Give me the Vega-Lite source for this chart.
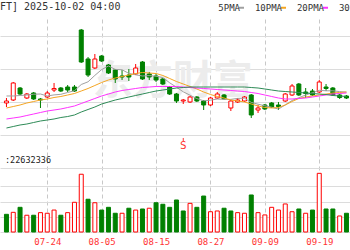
{
 "$schema": "https://vega.github.io/schema/vega-lite/v6.json",
 "width": 350,
 "height": 213,
 "autosize": {"type": "none"},
 "padding": {"left": 0, "top": 19, "right": 0, "bottom": 18},
 "background": "white",
 "title": {"text": "FT] 2025-10-02 04:00", "anchor": "start", "frame": "group", "font": "DejaVu Sans Mono", "fontSize": 10, "fontWeight": "normal", "color": "#333333", "baseline": "alphabetic", "offset": 0, "dy": 17},
 "config": {"view": {"stroke": null}},
 "datasets": {
  "k": [
   {"i":0,"d":"07-16","o":1.0955,"c":1.1015,"h":1.1106,"l":1.0833,"dir":"up","vol":11.6,"vdir":"down","5PMA":1.1167,"10PMA":1.0803,"20PMA":1.0470,"30PMA":1.0197},
   {"i":1,"d":"07-17","o":1.1045,"c":1.1561,"h":1.1591,"l":1.1015,"dir":"up","vol":12.9,"vdir":"up","5PMA":1.1167,"10PMA":1.0848,"20PMA":1.0500,"30PMA":1.0242},
   {"i":2,"d":"07-18","o":1.1409,"c":1.1227,"h":1.1439,"l":1.1197,"dir":"down","vol":16.2,"vdir":"down","5PMA":1.1182,"10PMA":1.0894,"20PMA":1.0530,"30PMA":1.0288},
   {"i":3,"d":"07-21","o":1.1106,"c":1.1227,"h":1.1258,"l":1.1076,"dir":"up","vol":11.0,"vdir":"up","5PMA":1.1197,"10PMA":1.0955,"20PMA":1.0576,"30PMA":1.0318},
   {"i":4,"d":"07-22","o":1.1258,"c":1.1076,"h":1.1288,"l":1.1045,"dir":"down","vol":11.0,"vdir":"down","5PMA":1.1221,"10PMA":1.1000,"20PMA":1.0621,"30PMA":1.0364},
   {"i":5,"d":"07-23","o":1.1076,"c":1.1045,"h":1.1106,"l":1.0803,"dir":"down","vol":12.7,"vdir":"up","5PMA":1.1227,"10PMA":1.1045,"20PMA":1.0667,"30PMA":1.0409},
   {"i":6,"d":"07-24","o":1.1136,"c":1.1258,"h":1.1318,"l":1.1106,"dir":"up","vol":12.3,"vdir":"up","5PMA":1.1167,"10PMA":1.1076,"20PMA":1.0712,"30PMA":1.0439},
   {"i":7,"d":"07-25","o":1.1348,"c":1.1394,"h":1.1561,"l":1.1288,"dir":"up","vol":14.4,"vdir":"up","5PMA":1.1200,"10PMA":1.1121,"20PMA":1.0742,"30PMA":1.0470},
   {"i":8,"d":"07-28","o":1.1409,"c":1.1318,"h":1.1439,"l":1.1288,"dir":"down","vol":11.0,"vdir":"down","5PMA":1.1218,"10PMA":1.1152,"20PMA":1.0773,"30PMA":1.0515},
   {"i":9,"d":"07-29","o":1.1439,"c":1.1348,"h":1.1500,"l":1.1288,"dir":"down","vol":12.7,"vdir":"up","5PMA":1.1273,"10PMA":1.1197,"20PMA":1.0818,"30PMA":1.0545},
   {"i":10,"d":"07-30","o":1.1439,"c":1.1318,"h":1.1500,"l":1.1288,"dir":"down","vol":19.5,"vdir":"up","5PMA":1.1327,"10PMA":1.1242,"20PMA":1.0864,"30PMA":1.0591},
   {"i":11,"d":"07-31","o":1.3167,"c":1.2197,"h":1.3197,"l":1.2167,"dir":"down","vol":37.9,"vdir":"up","5PMA":1.1515,"10PMA":1.1318,"20PMA":1.0939,"30PMA":1.0682},
   {"i":12,"d":"08-01","o":1.2288,"c":1.1803,"h":1.2348,"l":1.1742,"dir":"down","vol":21.5,"vdir":"down","5PMA":1.1597,"10PMA":1.1394,"20PMA":1.1015,"30PMA":1.0758},
   {"i":13,"d":"08-04","o":1.2015,"c":1.2288,"h":1.2439,"l":1.1985,"dir":"up","vol":19.2,"vdir":"up","5PMA":1.1791,"10PMA":1.1485,"20PMA":1.1091,"30PMA":1.0833},
   {"i":14,"d":"08-05","o":1.2379,"c":1.2227,"h":1.2409,"l":1.2197,"dir":"down","vol":14.4,"vdir":"down","5PMA":1.1967,"10PMA":1.1576,"20PMA":1.1167,"30PMA":1.0924},
   {"i":15,"d":"08-06","o":1.2106,"c":1.1864,"h":1.2136,"l":1.1833,"dir":"down","vol":16.2,"vdir":"down","5PMA":1.2076,"10PMA":1.1652,"20PMA":1.1227,"30PMA":1.0985},
   {"i":16,"d":"08-07","o":1.1955,"c":1.1682,"h":1.1985,"l":1.1561,"dir":"down","vol":12.3,"vdir":"down","5PMA":1.1973,"10PMA":1.1712,"20PMA":1.1288,"30PMA":1.1045},
   {"i":17,"d":"08-08","o":1.1773,"c":1.1742,"h":1.1955,"l":1.1652,"dir":"down","vol":12.3,"vdir":"up","5PMA":1.1961,"10PMA":1.1758,"20PMA":1.1333,"30PMA":1.1091},
   {"i":18,"d":"08-11","o":1.1803,"c":1.1742,"h":1.1985,"l":1.1621,"dir":"down","vol":15.6,"vdir":"down","5PMA":1.1852,"10PMA":1.1803,"20PMA":1.1364,"30PMA":1.1136},
   {"i":19,"d":"08-12","o":1.1833,"c":1.2015,"h":1.2136,"l":1.1803,"dir":"up","vol":14.4,"vdir":"up","5PMA":1.1809,"10PMA":1.1848,"20PMA":1.1394,"30PMA":1.1182},
   {"i":20,"d":"08-13","o":1.2197,"c":1.1682,"h":1.2227,"l":1.1652,"dir":"down","vol":15.1,"vdir":"down","5PMA":1.1773,"10PMA":1.1879,"20PMA":1.1424,"30PMA":1.1227},
   {"i":21,"d":"08-14","o":1.1833,"c":1.1742,"h":1.1894,"l":1.1652,"dir":"down","vol":15.6,"vdir":"up","5PMA":1.1785,"10PMA":1.1864,"20PMA":1.1439,"30PMA":1.1273},
   {"i":22,"d":"08-15","o":1.1773,"c":1.1652,"h":1.1833,"l":1.1591,"dir":"down","vol":19.2,"vdir":"down","5PMA":1.1767,"10PMA":1.1848,"20PMA":1.1455,"30PMA":1.1318},
   {"i":23,"d":"08-18","o":1.1682,"c":1.1530,"h":1.1712,"l":1.1500,"dir":"down","vol":18.2,"vdir":"down","5PMA":1.1724,"10PMA":1.1788,"20PMA":1.1455,"30PMA":1.1348},
   {"i":24,"d":"08-19","o":1.1439,"c":1.1227,"h":1.1470,"l":1.1197,"dir":"down","vol":16.2,"vdir":"down","5PMA":1.1567,"10PMA":1.1697,"20PMA":1.1455,"30PMA":1.1379},
   {"i":25,"d":"08-20","o":1.1227,"c":1.1015,"h":1.1258,"l":1.0955,"dir":"down","vol":21.0,"vdir":"down","5PMA":1.1433,"10PMA":1.1606,"20PMA":1.1455,"30PMA":1.1409},
   {"i":26,"d":"08-21","o":1.1015,"c":1.1045,"h":1.1076,"l":1.0924,"dir":"up","vol":13.8,"vdir":"down","5PMA":1.1294,"10PMA":1.1530,"20PMA":1.1439,"30PMA":1.1424},
   {"i":27,"d":"08-22","o":1.0985,"c":1.1136,"h":1.1167,"l":1.0955,"dir":"up","vol":18.8,"vdir":"up","5PMA":1.1191,"10PMA":1.1455,"20PMA":1.1424,"30PMA":1.1439},
   {"i":28,"d":"08-25","o":1.1136,"c":1.1015,"h":1.1167,"l":1.0985,"dir":"down","vol":16.2,"vdir":"down","5PMA":1.1088,"10PMA":1.1379,"20PMA":1.1409,"30PMA":1.1439},
   {"i":29,"d":"08-26","o":1.1015,"c":1.0894,"h":1.1045,"l":1.0742,"dir":"down","vol":23.6,"vdir":"down","5PMA":1.1021,"10PMA":1.1288,"20PMA":1.1394,"30PMA":1.1439},
   {"i":30,"d":"08-27","o":1.0894,"c":1.1106,"h":1.1136,"l":1.0864,"dir":"up","vol":13.3,"vdir":"up","5PMA":1.1039,"10PMA":1.1212,"20PMA":1.1379,"30PMA":1.1439},
   {"i":31,"d":"08-28","o":1.1106,"c":1.1227,"h":1.1288,"l":1.1076,"dir":"up","vol":13.8,"vdir":"up","5PMA":1.1076,"10PMA":1.1152,"20PMA":1.1364,"30PMA":1.1439},
   {"i":32,"d":"08-29","o":1.1197,"c":1.1076,"h":1.1227,"l":1.1045,"dir":"down","vol":15.6,"vdir":"down","5PMA":1.1064,"10PMA":1.1106,"20PMA":1.1348,"30PMA":1.1439},
   {"i":33,"d":"09-01","o":1.0803,"c":1.1015,"h":1.1045,"l":1.0712,"dir":"up","vol":13.8,"vdir":"down","5PMA":1.1064,"10PMA":1.1045,"20PMA":1.1333,"30PMA":1.1439},
   {"i":34,"d":"09-02","o":1.0985,"c":1.1045,"h":1.1106,"l":1.0955,"dir":"up","vol":12.7,"vdir":"up","5PMA":1.1094,"10PMA":1.1015,"20PMA":1.1318,"30PMA":1.1439},
   {"i":35,"d":"09-04","o":1.1015,"c":1.1136,"h":1.1167,"l":1.0985,"dir":"up","vol":12.3,"vdir":"up","5PMA":1.1100,"10PMA":1.0985,"20PMA":1.1303,"30PMA":1.1439},
   {"i":36,"d":"09-05","o":1.1197,"c":1.0591,"h":1.1227,"l":1.0500,"dir":"down","vol":24.3,"vdir":"down","5PMA":1.0973,"10PMA":1.0924,"20PMA":1.1273,"30PMA":1.1424},
   {"i":37,"d":"09-08","o":1.0742,"c":1.0803,"h":1.0894,"l":1.0652,"dir":"up","vol":12.7,"vdir":"up","5PMA":1.0918,"10PMA":1.0864,"20PMA":1.1242,"30PMA":1.1409},
   {"i":38,"d":"09-09","o":1.0894,"c":1.0773,"h":1.0924,"l":1.0742,"dir":"down","vol":11.2,"vdir":"up","5PMA":1.0870,"10PMA":1.0818,"20PMA":1.1197,"30PMA":1.1379},
   {"i":39,"d":"09-10","o":1.0955,"c":1.0833,"h":1.0985,"l":1.0803,"dir":"down","vol":16.2,"vdir":"up","5PMA":1.0827,"10PMA":1.0803,"20PMA":1.1152,"30PMA":1.1348},
   {"i":40,"d":"09-11","o":1.0894,"c":1.0848,"h":1.0985,"l":1.0742,"dir":"down","vol":14.4,"vdir":"up","5PMA":1.0770,"10PMA":1.0818,"20PMA":1.1106,"30PMA":1.1318},
   {"i":41,"d":"09-12","o":1.1015,"c":1.1227,"h":1.1258,"l":1.0985,"dir":"up","vol":18.4,"vdir":"up","5PMA":1.0897,"10PMA":1.0894,"20PMA":1.1076,"30PMA":1.1303},
   {"i":42,"d":"09-15","o":1.1197,"c":1.1470,"h":1.1530,"l":1.1167,"dir":"up","vol":13.3,"vdir":"up","5PMA":1.1030,"10PMA":1.1000,"20PMA":1.1076,"30PMA":1.1288},
   {"i":43,"d":"09-16","o":1.1530,"c":1.1197,"h":1.1561,"l":1.1167,"dir":"down","vol":15.1,"vdir":"down","5PMA":1.1115,"10PMA":1.1091,"20PMA":1.1091,"30PMA":1.1273},
   {"i":44,"d":"09-17","o":1.1288,"c":1.1242,"h":1.1409,"l":1.1106,"dir":"down","vol":12.3,"vdir":"up","5PMA":1.1197,"10PMA":1.1136,"20PMA":1.1106,"30PMA":1.1258},
   {"i":45,"d":"09-18","o":1.1318,"c":1.1197,"h":1.1379,"l":1.1167,"dir":"down","vol":14.4,"vdir":"down","5PMA":1.1267,"10PMA":1.1167,"20PMA":1.1136,"30PMA":1.1242},
   {"i":46,"d":"09-19","o":1.1288,"c":1.1591,"h":1.1652,"l":1.1258,"dir":"up","vol":38.5,"vdir":"up","5PMA":1.1339,"10PMA":1.1197,"20PMA":1.1167,"30PMA":1.1227},
   {"i":47,"d":"09-22","o":1.1439,"c":1.1394,"h":1.1530,"l":1.1318,"dir":"down","vol":15.1,"vdir":"down","5PMA":1.1324,"10PMA":1.1227,"20PMA":1.1197,"30PMA":1.1212},
   {"i":48,"d":"09-23","o":1.1409,"c":1.1197,"h":1.1439,"l":1.1167,"dir":"down","vol":15.1,"vdir":"down","5PMA":1.1324,"10PMA":1.1258,"20PMA":1.1227,"30PMA":1.1182},
   {"i":49,"d":"09-24","o":1.1197,"c":1.1121,"h":1.1227,"l":1.1076,"dir":"down","vol":10.5,"vdir":"up","5PMA":1.1300,"10PMA":1.1273,"20PMA":1.1242,"30PMA":1.1167},
   {"i":50,"d":"09-25","o":1.1167,"c":1.1106,"h":1.1197,"l":1.1076,"dir":"down","vol":12.3,"vdir":"down","5PMA":1.1282,"10PMA":1.1288,"20PMA":1.1258,"30PMA":1.1152}
  ]
 },
 "data": {"name": "k"},
 "encoding": {
  "x": {
   "field": "i", "type": "quantitative",
   "scale": {"domain": [-0.2143, 49.7857], "nice": false, "zero": false},
   "axis": {
    "values": [6, 14, 22, 30, 38, 46],
    "labelExpr": "['07-24','08-05','08-15','08-27','09-09','09-19'][(datum.value-6)/8]",
    "grid": true, "gridDash": [4, 3], "gridColor": "#c8c8c8",
    "domain": false, "ticks": false, "title": null,
    "labelColor": "#ff3333", "labelFont": "DejaVu Sans Mono", "labelFontSize": 9, "labelPadding": 5
   }
  }
 },
 "layer": [
  {
   "layer": [
    {
     "transform": [{"filter": "datum.i == 24"}],
     "mark": {"type": "text", "text": "东方财富", "font": "Noto Sans CJK SC", "fontSize": 40, "fontWeight": "bold", "fill": "#ececec", "align": "center", "baseline": "middle", "dx": 3},
     "encoding": {
      "y": {"datum": 1.159, "type": "quantitative"}
     }
    },
    {
     "mark": {"type": "rule", "strokeWidth": 1},
     "encoding": {
      "y": {"field": "l", "type": "quantitative",
       "scale": {"domain": [0.70455, 1.35], "nice": false, "zero": false},
       "axis": {"orient": "left", "values": [0.9, 0.95, 1.0, 1.05, 1.1, 1.15, 1.2, 1.25, 1.3, 1.35],
        "labels": false, "ticks": false, "domain": false, "grid": true, "title": null,
        "gridColor": {"condition": {"test": "datum.value > 1.34 || abs(datum.value - 0.95) < 0.001", "value": "#a8a8a8"}, "value": "#dcdcdc"}}},
      "y2": {"field": "h"},
      "stroke": {"field": "dir", "type": "nominal", "scale": {"domain": ["up", "down"], "range": ["#ff0000", "#008000"]}, "legend": null}
     }
    },
    {
     "mark": {"type": "bar", "size": 4, "strokeWidth": 1},
     "encoding": {
      "y": {"field": "o", "type": "quantitative"},
      "y2": {"field": "c"},
      "fill": {"field": "dir", "type": "nominal", "scale": {"domain": ["up", "down"], "range": ["#ffffff", "#008000"]}, "legend": null},
      "stroke": {"field": "dir", "type": "nominal", "legend": null}
     }
    },
    {
     "transform": [{"fold": ["5PMA", "10PMA", "20PMA", "30PMA"], "as": ["ma", "v"]}],
     "mark": {"type": "line", "strokeWidth": 1},
     "encoding": {
      "y": {"field": "v", "type": "quantitative"},
      "color": {"field": "ma", "type": "nominal",
       "scale": {"domain": ["5PMA", "10PMA", "20PMA", "30PMA"], "range": ["#a0a0a0", "#f5a623", "#ff33ff", "#2e8b57"]},
       "legend": {"orient": "none", "legendX": 237, "legendY": -16, "direction": "horizontal", "title": null,
        "symbolType": "stroke", "symbolSize": 25, "symbolStrokeWidth": 2,
        "labelAlign": "right", "labelOffset": -6, "labelFont": "DejaVu Sans Mono", "labelFontSize": 9, "labelColor": "#333333",
        "columnPadding": 6, "padding": 0}}
     }
    },
    {
     "transform": [{"filter": "datum.i == 26"}],
     "mark": {"type": "rule", "stroke": "#ff3333", "strokeWidth": 1},
     "encoding": {
      "y": {"datum": 0.9894, "type": "quantitative"},
      "y2": {"datum": 0.9803}
     }
    },
    {
     "transform": [{"filter": "datum.i == 26"}],
     "mark": {"type": "text", "text": "S", "font": "DejaVu Sans Mono", "fontSize": 11, "fill": "#ff3333", "align": "center", "baseline": "middle"},
     "encoding": {
      "y": {"datum": 0.9652, "type": "quantitative"}
     }
    },
    {
     "transform": [{"filter": "datum.i == 0"}],
     "mark": {"type": "text", "text": ":22632336", "font": "DejaVu Sans Mono", "fontSize": 8.5, "fill": "#222222", "align": "left", "baseline": "middle", "dx": -1.5},
     "encoding": {
      "y": {"datum": 0.9227, "type": "quantitative"}
     }
    }
   ]
  },
  {
   "layer": [
    {
     "mark": {"type": "bar", "size": 4, "strokeWidth": 1},
     "encoding": {
      "y": {"field": "vol", "type": "quantitative",
       "scale": {"domain": [0, 139.78], "nice": false},
       "axis": {"orient": "right", "values": [0, 10, 20, 30], "labels": false, "ticks": false, "domain": false, "grid": true, "gridColor": "#dcdcdc", "title": null}},
      "fill": {"field": "vdir", "type": "nominal", "legend": null},
      "stroke": {"field": "vdir", "type": "nominal", "legend": null}
     }
    }
   ]
  }
 ],
 "resolve": {"scale": {"y": "independent"}}
}
